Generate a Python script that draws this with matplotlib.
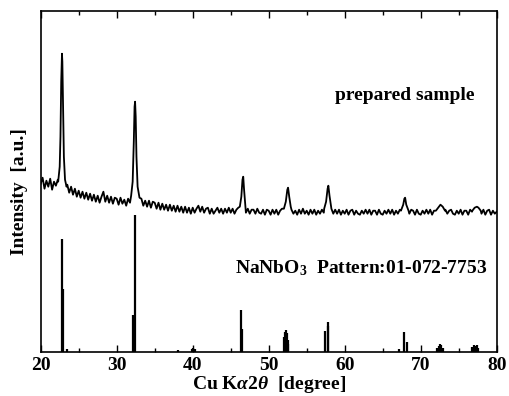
import numpy as np
import matplotlib
matplotlib.use("Agg")
import matplotlib.pyplot as plt

plt.rcParams['font.family'] = ['Liberation Serif', 'DejaVu Serif']
plt.rcParams['font.weight'] = 'bold'
plt.rcParams['mathtext.fontset'] = 'custom'
plt.rcParams['mathtext.rm'] = 'Liberation Serif:bold'
plt.rcParams['mathtext.bf'] = 'Liberation Serif:bold'
plt.rcParams['mathtext.it'] = 'Liberation Serif:italic:bold'

# ---- measured pattern (arbitrary units) ----
# background, sampled every 0.25 deg from 20 to 80
bg_start, bg_step = 20.0, 0.25
bg_y = [
    168, 174, 163, 171,  165, 173, 162, 170,  166, 172, 168, 168,  168, 166, 167, 159,
    165, 157, 163, 155,  161, 154, 160, 153,  159, 152, 158, 151,  157, 150, 156, 149,
    155, 160, 150, 156,  149, 155, 148, 154,  153, 147, 154, 148,  152, 146, 153, 149,
    150, 150, 150, 150,  150, 153, 146, 151,  145, 151, 144, 150,  149, 143, 149, 142,
    148, 142, 147, 141,  147, 141, 146, 140,  146, 140, 145, 139,  145, 139, 144, 138,
    144, 139, 143, 146,  140, 145, 139, 143,  144, 138, 143, 138,  141, 144, 139, 143,
    138, 143, 139, 144,  139, 143, 138, 142,  144, 142, 142, 142,  139, 143, 138, 142,
    142, 138, 143, 139,  138, 142, 137, 142,  141, 137, 142, 138,  142, 137, 141, 143,
    140, 140, 140, 140,  142, 138, 141, 137,  142, 138, 143, 138,  141, 137, 142, 138,
    142, 137, 141, 138,  142, 139, 140, 140,  140, 143, 138, 142,  138, 142, 137, 141,
    138, 142, 137, 141,  142, 137, 141, 138,  137, 141, 138, 142,  138, 142, 137, 141,
    141, 137, 142, 138,  137, 141, 138, 142,  138, 142, 137, 141,  138, 142, 140, 140,
    140, 140, 138, 142,  141, 137, 142, 138,  137, 141, 138, 142,  138, 142, 137, 141,
    140, 140, 140, 140,  140, 142, 138, 141,  142, 138, 137, 141,  138, 142, 137, 141,
    141, 137, 142, 140,  140, 140, 140, 140,  138, 142, 137, 141,  142, 137, 141, 138,
    140,
]

# diffraction peaks of the prepared sample (2theta, intensity)
peak_x = [
    [22.3, 22.5, 22.6, 22.7, 22.8, 22.85, 22.95, 23.05, 23.2, 23.4],
    [31.9, 32.1, 32.25, 32.35, 32.42, 32.5, 32.6, 32.75, 33.0],
    [46.2, 46.4, 46.55, 46.65, 46.75, 46.9],
    [52.0, 52.25, 52.45, 52.55, 52.7, 52.9],
    [57.3, 57.55, 57.75, 57.85, 58.0, 58.2],
    [67.4, 67.7, 67.85, 67.95, 68.1, 68.4],
    [72.0, 72.4, 72.6, 72.9, 73.2],
    [76.8, 77.1, 77.4, 77.6, 77.9],
]
peak_y = [
    [170, 185, 215, 270, 298, 290, 240, 195, 172, 165],
    [156, 170, 210, 245, 250, 235, 195, 165, 154],
    [145, 155, 172, 175, 163, 148],
    [143, 150, 162, 164, 155, 145],
    [143, 150, 163, 166, 156, 145],
    [141, 147, 153, 154, 147, 141],
    [141, 145, 147, 145, 141],
    [141, 144, 145, 144, 141],
]

# reference pattern NaNbO3 01-072-7753 (2theta, relative height)
ref_x = [22.78, 22.90, 23.4, 32.15, 32.40, 38.1, 39.9, 40.1, 40.3,
         46.35, 46.55, 52.05, 52.15, 52.25, 52.35, 52.5, 52.6,
         57.45, 57.75, 57.85, 67.2, 67.85, 68.15,
         72.2, 72.4, 72.55, 72.7, 72.9, 76.8, 77.0, 77.2, 77.4, 77.6]
ref_h = [113, 63, 3, 37, 137, 2, 3, 4, 3,
         42, 23, 15, 20, 22, 19, 12, 8,
         21, 30, 26, 3, 20, 10,
         4, 6, 8, 7, 4, 5, 7, 6, 7, 4]

xticks = [20, 30, 40, 50, 60, 70, 80]

# ---- assemble curve ----
bx = bg_start + bg_step * np.arange(len(bg_y))
by = np.array(bg_y, dtype=float)
keep = np.ones(len(bx), bool)
for px in peak_x:
    keep &= ~((bx >= px[0]) & (bx <= px[-1]))
cx = np.concatenate([bx[keep]] + [np.array(p) for p in peak_x])
cy = np.concatenate([by[keep]] + [np.array(p, float) for p in peak_y])
order = np.argsort(cx)
cx, cy = cx[order], cy[order]

fig = plt.figure(figsize=(5.09, 3.96), dpi=100)
ax = fig.add_axes([40.7 / 509, 1 - 351.7 / 396, 456 / 509, 340.7 / 396])

ax.plot(cx, cy, color='black', lw=1.3)
ax.vlines(ref_x, 0, ref_h, color='black', lw=1.6)

ax.set_xlim(20, 80)
ax.set_ylim(0, 340.7)
ax.set_xticks(xticks)
ax.set_xticks(np.arange(25, 80, 10), minor=True)
ax.set_yticks([])
ax.tick_params(axis='x', which='both', direction='in', top=True, bottom=True,
               labelsize=14, pad=3.5, width=1.0)
ax.tick_params(axis='x', which='major', length=5)
ax.tick_params(axis='x', which='minor', length=3)
for lab in ax.get_xticklabels():
    lab.set_fontweight('bold')
for s in ax.spines.values():
    s.set_linewidth(1.2)

ax.set_xlabel(r'Cu K$\alpha$2$\theta$  [degree]', fontsize=14, fontweight='bold', labelpad=0)
fig.text(20 / 509, 1 - 192 / 396, 'Intensity  [a.u.]', rotation=90, fontsize=14,
         fontweight='bold', ha='center', va='center')

ax.text(58.7, 255.7, 'prepared sample', fontsize=14, fontweight='bold',
        ha='left', va='center')
ax.text(45.57, 78.4, r'NaNbO$_3$  Pattern:01-072-7753', fontsize=14, fontweight='bold',
        ha='left', va='baseline')

fig.savefig('out.png', dpi=100)
